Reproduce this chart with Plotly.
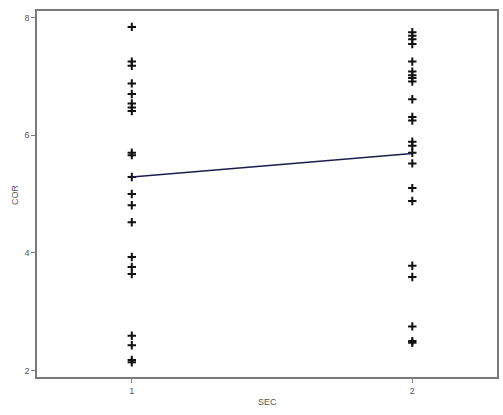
import plotly.graph_objects as go

# Data
sec_1_cor = [7.84, 7.25, 7.18, 6.88, 6.70, 6.54, 6.47, 6.41, 5.70, 5.66, 5.29,
             5.00, 4.81, 4.52, 3.93, 3.76, 3.64, 2.59, 2.43, 2.18, 2.14]
sec_2_cor = [7.75, 7.69, 7.63, 7.55, 7.25, 7.08, 7.02, 6.97, 6.91, 6.61, 6.31,
             6.25, 5.89, 5.82, 5.70, 5.52, 5.10, 4.88, 3.78, 3.59, 2.75, 2.50, 2.47]
line_x = [1, 2]
line_y = [5.29, 5.69]
x_ticks = [1, 2]
y_ticks = [2, 4, 6, 8]

fig = go.Figure()
fig.add_trace(go.Scatter(
    x=[1] * len(sec_1_cor) + [2] * len(sec_2_cor),
    y=sec_1_cor + sec_2_cor,
    mode="markers",
    marker=dict(symbol="cross-thin", size=6, line=dict(width=2, color="#111111"), color="#111111"),
    showlegend=False, hoverinfo="skip"))
fig.add_trace(go.Scatter(
    x=line_x, y=line_y, mode="lines",
    line=dict(color="#1c1c4a", width=1.5),
    showlegend=False, hoverinfo="skip"))

axis_common = dict(showline=True, mirror=True, linecolor="#7a7a7a", linewidth=1.5,
                   showgrid=False, zeroline=False, ticks="outside", ticklen=4,
                   tickcolor="#7a7a7a", tickwidth=1,
                   tickfont=dict(family="Liberation Sans, Arial", size=9, color="#555555"))

fig.update_layout(
    width=503, height=415,
    margin=dict(l=37, r=4, t=11, b=38),
    paper_bgcolor="white", plot_bgcolor="white",
    xaxis=dict(range=[0.662, 2.302], tickvals=x_ticks, ticktext=[str(v) for v in x_ticks], **axis_common),
    yaxis=dict(range=[1.89, 8.11], tickvals=y_ticks, ticktext=[str(v) for v in y_ticks], **axis_common),
    annotations=[
        dict(text="SEC", x=0.5, y=-0.068, xref="paper", yref="paper", showarrow=False,
             xanchor="center", yanchor="middle",
             font=dict(family="Liberation Sans, Arial", size=9, color="#555555")),
        dict(text="COR", x=-0.048, y=0.5, xref="paper", yref="paper", showarrow=False,
             textangle=-90, xanchor="center", yanchor="middle",
             font=dict(family="Liberation Sans, Arial", size=9, color="#555555")),
    ],
)

fig.write_html("out.html")
